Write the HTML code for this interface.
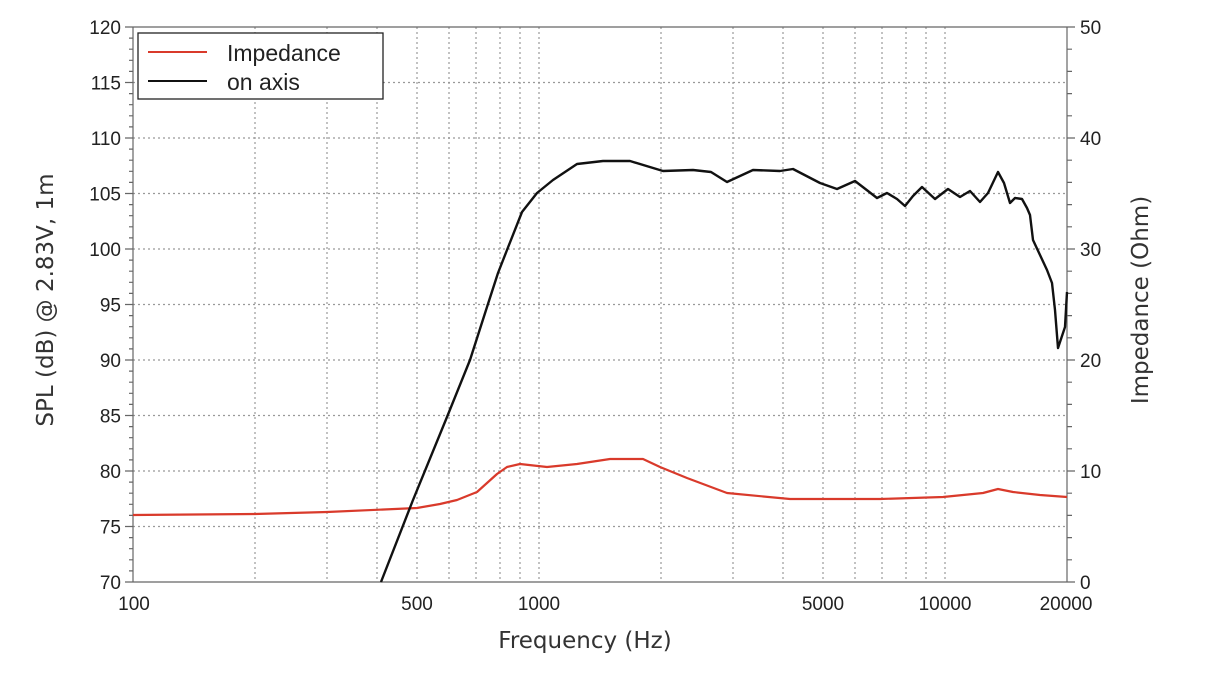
<!DOCTYPE html>
<html><head><meta charset="utf-8"><style>
body{margin:0;background:#fff}
svg{display:block}
.t{font-family:"Liberation Sans",Arial,sans-serif;font-size:19px;fill:#222}
.a{font-family:"DejaVu Sans","Liberation Sans",sans-serif;font-size:23px;fill:#333}
</style></head><body>
<svg width="1214" height="694" viewBox="0 0 1214 694" xmlns="http://www.w3.org/2000/svg">
<g stroke="#999" stroke-width="1.2" stroke-dasharray="2,3">
<line x1="255" y1="27" x2="255" y2="582"/><line x1="327" y1="27" x2="327" y2="582"/><line x1="377" y1="27" x2="377" y2="582"/><line x1="417" y1="27" x2="417" y2="582"/><line x1="449" y1="27" x2="449" y2="582"/><line x1="476" y1="27" x2="476" y2="582"/><line x1="500" y1="27" x2="500" y2="582"/><line x1="520" y1="27" x2="520" y2="582"/><line x1="539" y1="27" x2="539" y2="582"/><line x1="661" y1="27" x2="661" y2="582"/><line x1="733" y1="27" x2="733" y2="582"/><line x1="783" y1="27" x2="783" y2="582"/><line x1="823" y1="27" x2="823" y2="582"/><line x1="855" y1="27" x2="855" y2="582"/><line x1="882" y1="27" x2="882" y2="582"/><line x1="906" y1="27" x2="906" y2="582"/><line x1="926" y1="27" x2="926" y2="582"/><line x1="945" y1="27" x2="945" y2="582"/>
<line x1="133" y1="82.5" x2="1067" y2="82.5"/><line x1="133" y1="138" x2="1067" y2="138"/><line x1="133" y1="193.5" x2="1067" y2="193.5"/><line x1="133" y1="249" x2="1067" y2="249"/><line x1="133" y1="304.5" x2="1067" y2="304.5"/><line x1="133" y1="360" x2="1067" y2="360"/><line x1="133" y1="415.5" x2="1067" y2="415.5"/><line x1="133" y1="471" x2="1067" y2="471"/><line x1="133" y1="526.5" x2="1067" y2="526.5"/>
</g>
<g stroke="#666" stroke-width="1.2" fill="none">
<line x1="133" y1="27" x2="133" y2="582"/><line x1="1067" y1="27" x2="1067" y2="582"/><line x1="133" y1="582" x2="1067" y2="582"/><line x1="133" y1="27" x2="1067" y2="27"/>
<path d="M133 27h-8M133 82.5h-8M133 138h-8M133 193.5h-8M133 249h-8M133 304.5h-8M133 360h-8M133 415.5h-8M133 471h-8M133 526.5h-8M133 582h-8
M133 38.1h-4M133 49.2h-4M133 60.3h-4M133 71.4h-4M133 93.6h-4M133 104.7h-4M133 115.8h-4M133 126.9h-4M133 149.1h-4M133 160.2h-4M133 171.3h-4M133 182.4h-4M133 204.6h-4M133 215.7h-4M133 226.8h-4M133 237.9h-4M133 260.1h-4M133 271.2h-4M133 282.3h-4M133 293.4h-4M133 315.6h-4M133 326.7h-4M133 337.8h-4M133 348.9h-4M133 371.1h-4M133 382.2h-4M133 393.3h-4M133 404.4h-4M133 426.6h-4M133 437.7h-4M133 448.8h-4M133 459.9h-4M133 482.1h-4M133 493.2h-4M133 504.3h-4M133 515.4h-4M133 537.6h-4M133 548.7h-4M133 559.8h-4M133 570.9h-4
M1067 27h8M1067 138h8M1067 249h8M1067 360h8M1067 471h8M1067 582h8
M1067 49.2h5M1067 71.4h5M1067 93.6h5M1067 115.8h5M1067 160.2h5M1067 182.4h5M1067 204.6h5M1067 226.8h5M1067 271.2h5M1067 293.4h5M1067 315.6h5M1067 337.8h5M1067 382.2h5M1067 404.4h5M1067 426.6h5M1067 448.8h5M1067 493.2h5M1067 515.4h5M1067 537.6h5M1067 559.8h5"/>
</g>
<g class="t" text-anchor="end">
<text x="121" y="34">120</text><text x="121" y="89.5">115</text><text x="121" y="145">110</text><text x="121" y="200.5">105</text><text x="121" y="256">100</text><text x="121" y="311.5">95</text><text x="121" y="367">90</text><text x="121" y="422.5">85</text><text x="121" y="478">80</text><text x="121" y="533.5">75</text><text x="121" y="589">70</text>
</g>
<g class="t">
<text x="1080" y="34">50</text><text x="1080" y="145">40</text><text x="1080" y="256">30</text><text x="1080" y="367">20</text><text x="1080" y="478">10</text><text x="1080" y="589">0</text>
</g>
<g class="t" text-anchor="middle">
<text x="134" y="610">100</text><text x="417" y="610">500</text><text x="539" y="610">1000</text><text x="823" y="610">5000</text><text x="945" y="610">10000</text><text x="1066" y="610">20000</text>
</g>
<text class="a" x="585" y="648" text-anchor="middle">Frequency (Hz)</text>
<text class="a" transform="translate(53,300) rotate(-90)" text-anchor="middle">SPL (dB) @ 2.83V, 1m</text>
<text class="a" transform="translate(1148,300) rotate(-90)" text-anchor="middle">Impedance (Ohm)</text>
<path fill="none" stroke="#d93a2b" stroke-width="2.2" stroke-linejoin="round" d="M133 515 L255 514 L327 512 L417 508 L440 504 L457 500 L477 492 L497 474 L507 467 L520 464 L547 467 L577 464 L610 459 L643 459 L660 467 L687 478 L727 493 L790 499 L880 499 L943 497 L983 493 L998 489 L1013 492 L1040 495 L1067 497"/>
<path fill="none" stroke="#111" stroke-width="2.4" stroke-linejoin="round" d="M381 582 L413 500 L447 417 L470 360 L487 307 L498 273 L507 250 L522 212 L537 193 L553 180 L577 164 L603 161 L630 161 L663 171 L693 170 L711 172 L727 182 L753 170 L780 171 L793 169 L820 183 L837 189 L855 181 L868 191 L877 198 L887 193 L897 199 L905 206 L913 196 L922 187 L935 199 L948 189 L960 197 L970 191 L980 202 L988 193 L998 172 L1004 183 L1010 203 L1015 198 L1022 199 L1027 208 L1030 215 L1033 240 L1047 270 L1052 283 L1055 310 L1058 348 L1065 327 L1067 292"/>
<rect x="138" y="33" width="245" height="66" fill="#fff" stroke="#222" stroke-width="1.3"/>
<line x1="148" y1="52" x2="207" y2="52" stroke="#d93a2b" stroke-width="2"/>
<line x1="148" y1="81" x2="207" y2="81" stroke="#111" stroke-width="2"/>
<text x="227" y="61" style="font-family:'Liberation Sans',sans-serif;font-size:23px;fill:#222">Impedance</text>
<text x="227" y="90" style="font-family:'Liberation Sans',sans-serif;font-size:23px;fill:#222">on axis</text>
</svg>
</body></html>
